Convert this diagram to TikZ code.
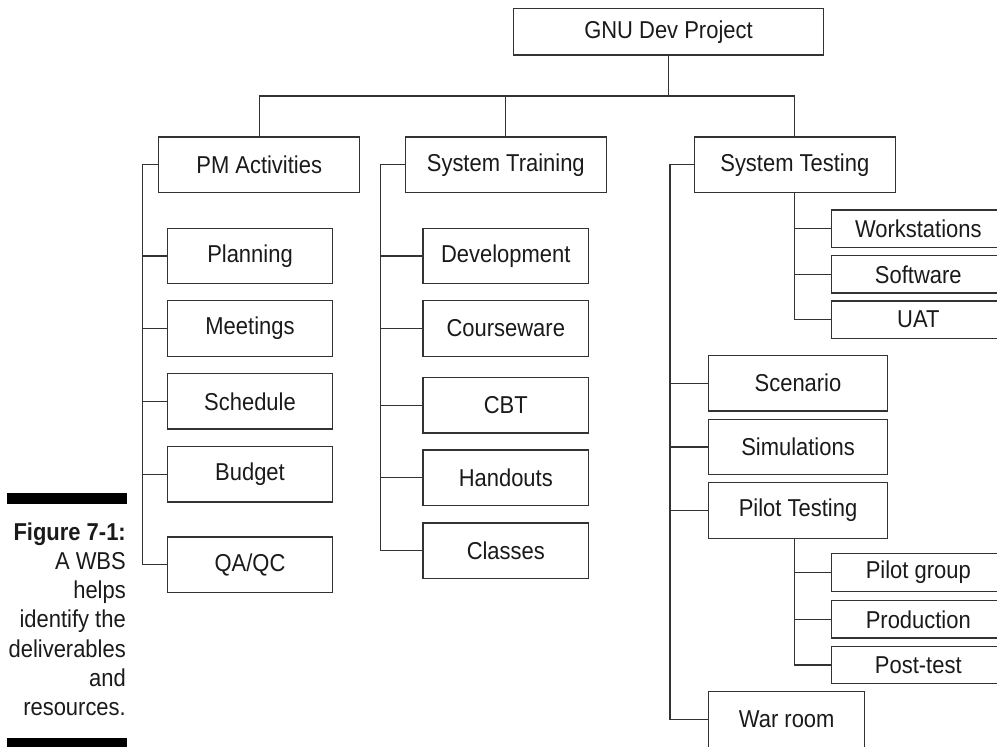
\documentclass[tikz,border=0pt]{standalone}
\usepackage{fontspec}
\setmainfont{Liberation Sans}[FakeStretch=0.9]
\definecolor{linegray}{HTML}{333333}
\definecolor{inkgray}{HTML}{1A1A1A}
\newcommand\wbsfont{\fontsize{24.4}{29}\selectfont}

\begin{document}
\begin{tikzpicture}[
		x=1pt, y=-1pt,
		box/.style={draw=linegray, line width=1.3pt, inner sep=0pt, text=inkgray, minimum height=55.6, font=\wbsfont},
		phase/.style={box, minimum width=201},
		item/.style={box, minimum width=165.4},
		task/.style={box, minimum width=178.6},
		leaf/.style={box, minimum width=174, minimum height=37.5},
		link/.style={draw=linegray, line width=1.3pt},
		caption/.style={anchor=base east, inner sep=0pt, text=inkgray, font=\wbsfont}
	]
	\useasboundingbox (0,0) rectangle (997,747);
	\clip (0,0) rectangle (997,747);

	% top levels
	\node[box, minimum width=310.4, minimum height=46.3] (gnu) at (668.5,31.8) {GNU Dev Project};
	\node[phase] (pm) at (259.2,164.8) {PM Activities};
	\node[phase] (train) at (505.8,164.8) {System Training};
	\node[phase] (test) at (794.8,164.8) {System Testing};

	% PM Activities
	\node[item] (plan) at (250,256) {Planning};
	\node[item] (meet) at (250,328.5) {Meetings};
	\node[item] (sched) at (250,401.3) {Schedule};
	\node[item] (budget) at (250,474.2) {Budget};
	\node[item] (qaqc) at (250,564.8) {QA/QC};

	% System Training
	\node[item] (dev) at (505.8,256) {Development};
	\node[item] (course) at (505.8,328.5) {Courseware};
	\node[item] (cbt) at (505.8,405.2) {CBT};
	\node[item] (hand) at (505.8,477.8) {Handouts};
	\node[item] (class) at (505.8,550.7) {Classes};

	% System Testing
	\node[leaf] (work) at (918.3,228.7) {Workstations};
	\node[leaf] (soft) at (918.3,274.3) {Software};
	\node[leaf] (uat) at (918.3,319.7) {UAT};
	\node[task] (scen) at (798,383.2) {Scenario};
	\node[task] (sim) at (798,447) {Simulations};
	\node[task] (pilot) at (798,510.5) {Pilot Testing};
	\node[leaf] (group) at (918.3,572.5) {Pilot group};
	\node[leaf] (prod) at (918.3,619.3) {Production};
	\node[leaf] (post) at (918.3,664.9) {Post-test};
	\node[task, minimum width=156] (war) at (786.7,719.5) {War room};

	% connectors
	\coordinate (bus) at (0,96);
	\draw[link] (gnu.south) -- (gnu.south |- bus);
	\draw[link] (pm.north) -- (pm.north |- bus) -- (test.north |- bus) -- (test.north);
	\draw[link] (train.north) -- (train.north |- bus);
	\foreach \c in {plan,meet,sched,budget,qaqc}
		\draw[link] (pm.west) -- ++(-15.7,0) |- (\c.west);
	\foreach \c in {dev,course,cbt,hand,class}
		\draw[link] (train.west) -- ++(-24,0) |- (\c.west);
	\foreach \c in {scen,sim,pilot,war}
		\draw[link] (test.west) -- ++(-23.6,0) |- (\c.west);
	\foreach \c in {work,soft,uat}
		\draw[link] (test.south) |- (\c.west);
	\foreach \c in {group,prod,post}
		\draw[link] (test.south |- pilot.south) |- (\c.west);

	% caption
	\fill[black] (6.7,493.3) rectangle (126.7,504);
	\fill[black] (6.7,737.7) rectangle (126.7,750);
	\node[caption, font=\wbsfont\bfseries] (fig) at (126,540) {Figure 7-1:};
	\foreach \t [count=\i] in {A WBS, helps, identify the, deliverables, and, resources.}
		\node[caption] (cap\i) at (126,540+29.33*\i) {\t};
\end{tikzpicture}
\end{document}
